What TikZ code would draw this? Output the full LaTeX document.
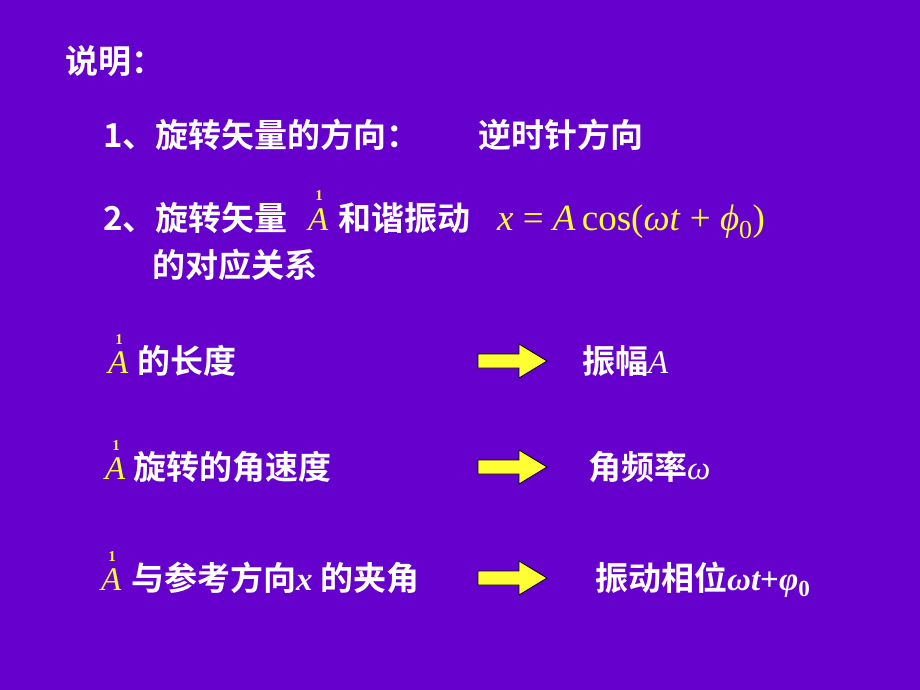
\documentclass[tikz,border=0pt]{standalone}
\usepackage{fontspec}
\setmainfont{Liberation Serif}
\newfontfamily\cjk{Noto Sans CJK SC Bold}
\definecolor{bg}{HTML}{6600CC}
\definecolor{ye}{HTML}{FFFF33}
\tikzset{
 txt/.style={anchor=base west,inner sep=0pt,text=white,font=\cjk\fontsize{33}{36}\selectfont},
 mth/.style={anchor=base west,inner sep=0pt,text=ye,font=\fontsize{37}{40}\selectfont},
 vecA/.style={anchor=base west,inner sep=0pt,text=ye,font=\fontsize{33}{36}\selectfont\itshape},
 one/.style={anchor=base,inner sep=0pt,text=ye,font=\fontsize{15}{15}\selectfont\bfseries},
 arr/.style={draw=black,fill=ye,line width=0.8pt}
}
\newcommand{\yarrow}[1]{\draw[arr] (#1) ++(0,-7) -- ++(41,0) -- ++(0,-10) -- ++(28,17) -- ++(-28,17) -- ++(0,-10) -- ++(-41,0) -- cycle;}
\begin{document}
\begin{tikzpicture}[x=1pt,y=-1pt]
\fill[bg] (0,0) rectangle (920,690);
\useasboundingbox (0,0) rectangle (920,690);
\node[txt] (t0) at (65,74) {说明：};
\node[txt] (t1) at (103,147) {1、旋转矢量的方向：};
\node[txt] (t1b) at (478,147) {逆时针方向};
\node[txt] (t2) at (103,230) {2、旋转矢量};
\node[vecA] (a0) at (308,230) {A};
\node[one] (o0) at (319,200) {1};
\node[txt] (t2b) at (338,230) {和谐振动};
\node[mth] (f) at (497,230) {\textit{x} = \textit{A}\,cos(\textit{ωt} + \textit{ϕ}\textsubscript{0})};
\node[txt] (t3) at (152,277) {的对应关系};
\node[vecA] (a1) at (108,373) {A};
\node[one] (o1) at (119,344) {1};
\node[txt] (r1) at (137,373) {的长度};
\coordinate (ar1) at (478,361); \yarrow{ar1}
\node[txt] (r1b) at (582,373) {振幅{\fontspec{Liberation Serif}\itshape A}};
\node[vecA] (a2) at (105,479) {A};
\node[one] (o2) at (116,450) {1};
\node[txt] (r2) at (133,479) {旋转的角速度};
\coordinate (ar2) at (478,467); \yarrow{ar2}
\node[txt] (r2b) at (588,479) {角频率{\fontspec{Liberation Serif}\itshape ω}};
\node[vecA] (a3) at (101,590) {A};
\node[one] (o3) at (112,561) {1};
\node[txt] (r3) at (131,590) {与参考方向{\fontspec{Liberation Serif}\bfseries\itshape x} 的夹角};
\coordinate (ar3) at (478,578); \yarrow{ar3}
\node[txt] (r3b) at (595,590) {振动相位{\fontspec{Liberation Serif}\bfseries\itshape ωt\upshape +\itshape φ\textsubscript{\upshape 0}}};
\end{tikzpicture}
\end{document}
